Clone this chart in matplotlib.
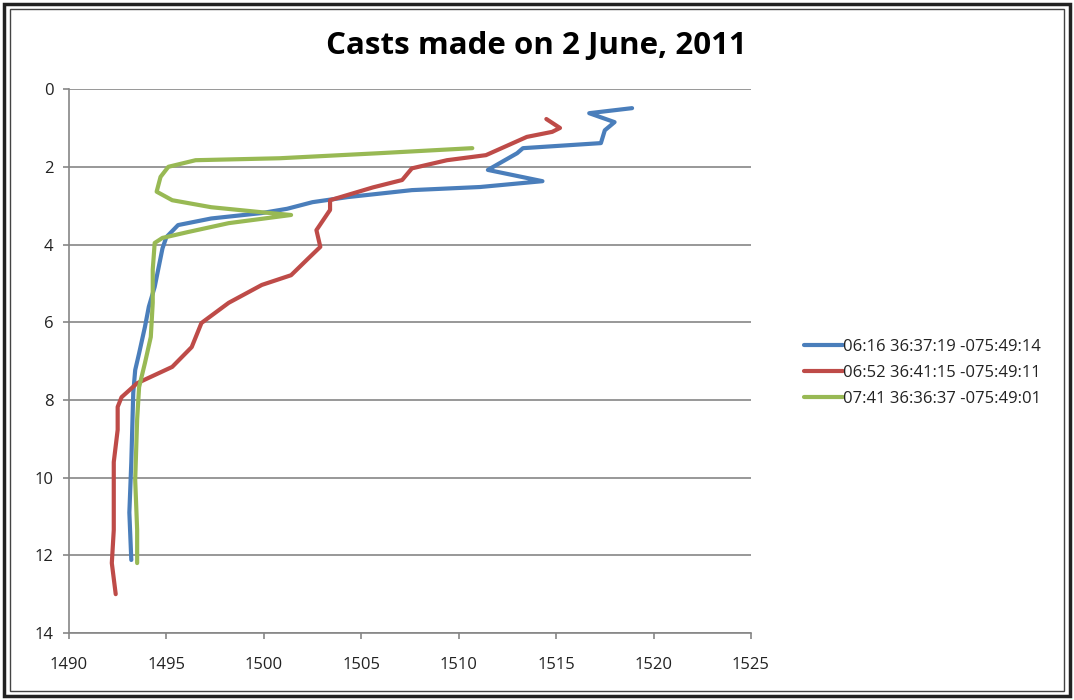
import matplotlib
matplotlib.use("Agg")
import matplotlib.pyplot as plt
from matplotlib.patches import Rectangle

plt.rcParams["font.family"] = ["Open Sans", "DejaVu Sans"]

TITLE = "Casts made on 2 June, 2011"
LABELS = ["06:16 36:37:19 -075:49:14",
          "06:52 36:41:15 -075:49:11",
          "07:41 36:36:37 -075:49:01"]
COLORS = ["#4A7EBB", "#BE4B48", "#98B954"]

# sound speed (x) vs depth (y)
blue_x = [1518.9, 1516.7, 1518.0, 1517.5, 1517.3, 1513.3, 1513.0, 1511.5, 1514.3, 1511.1,
          1507.6, 1504.3, 1502.5, 1501.2, 1499.9, 1497.3, 1495.6, 1495.0, 1494.8, 1494.4,
          1494.1, 1493.9, 1493.6, 1493.4, 1493.3, 1493.2, 1493.1, 1493.2]
blue_y = [0.49, 0.62, 0.85, 1.06, 1.39, 1.52, 1.65, 2.08, 2.37, 2.52,
          2.60, 2.78, 2.91, 3.08, 3.19, 3.33, 3.50, 3.81, 4.10, 5.09,
          5.60, 6.12, 6.80, 7.23, 7.82, 9.60, 10.90, 12.12]

red_x = [1514.5, 1515.2, 1514.8, 1513.5, 1511.4, 1509.4, 1507.6, 1507.1, 1505.6, 1503.4,
         1503.4, 1502.7, 1502.9, 1502.3, 1501.4, 1499.9, 1498.2, 1496.8, 1496.3, 1495.3,
         1493.5, 1492.7, 1492.5, 1492.5, 1492.3, 1492.3, 1492.2, 1492.4]
red_y = [0.77, 1.00, 1.10, 1.23, 1.70, 1.83, 2.04, 2.34, 2.53, 2.86,
         3.11, 3.63, 4.06, 4.35, 4.79, 5.04, 5.50, 6.02, 6.64, 7.15,
         7.57, 7.93, 8.18, 8.77, 9.60, 11.35, 12.20, 13.00]

green_x = [1510.7, 1505.9, 1500.8, 1496.5, 1495.1, 1494.7, 1494.5, 1495.3, 1497.3, 1499.9,
           1501.4, 1498.2, 1496.1, 1494.8, 1494.4, 1494.3, 1494.3, 1494.2, 1493.9, 1493.6,
           1493.5, 1493.4, 1493.5, 1493.5]
green_y = [1.52, 1.65, 1.78, 1.83, 2.00, 2.26, 2.64, 2.86, 3.04, 3.17,
           3.24, 3.45, 3.68, 3.83, 3.96, 4.65, 5.50, 6.38, 7.05, 7.67,
           8.50, 10.06, 11.35, 12.20]

series = [(blue_x, blue_y), (red_x, red_y), (green_x, green_y)]

fig = plt.figure(figsize=(10.74, 7.0), dpi=100)
ax = fig.add_axes([0.0642, 0.0957, 0.635, 0.777])

for (xs, ys), c, lab in zip(series, COLORS, LABELS):
    ax.plot(xs, ys, color=c, lw=3.0, label=lab, solid_capstyle="round", solid_joinstyle="round")

ax.set_xlim(1490, 1525)
ax.set_ylim(14, 0)
ax.set_xticks(range(1490, 1526, 5))
ax.set_yticks(range(0, 15, 2))
ax.yaxis.grid(True, color="#868686", lw=1.2)
ax.set_axisbelow(True)
for s in ["top", "right"]:
    ax.spines[s].set_visible(False)
for s in ["left", "bottom"]:
    ax.spines[s].set_color("#868686")
    ax.spines[s].set_linewidth(1.2)
ax.tick_params(colors="#868686", labelcolor="#222222", labelsize=12, length=4.3, width=1.2)
ax.tick_params(axis="x", pad=13)
ax.tick_params(axis="y", pad=7)

fig.text(0.499, 0.935, TITLE, ha="center", va="center", fontsize=22.5, fontweight="bold")

fig.legend(loc="center left", bbox_to_anchor=(0.735, 0.467), frameon=False,
           fontsize=12, handlelength=2.3, handletextpad=0.0, labelspacing=0.6,
           labelcolor="#222222")

# double frame round the chart
fig.patches.append(Rectangle((0.004, 0.006), 0.992, 0.988, transform=fig.transFigure,
                             fill=False, ec="#222222", lw=2.5))
fig.patches.append(Rectangle((0.009, 0.013), 0.982, 0.974, transform=fig.transFigure,
                             fill=False, ec="#444444", lw=1.0))

fig.savefig("out.png", dpi=100)
